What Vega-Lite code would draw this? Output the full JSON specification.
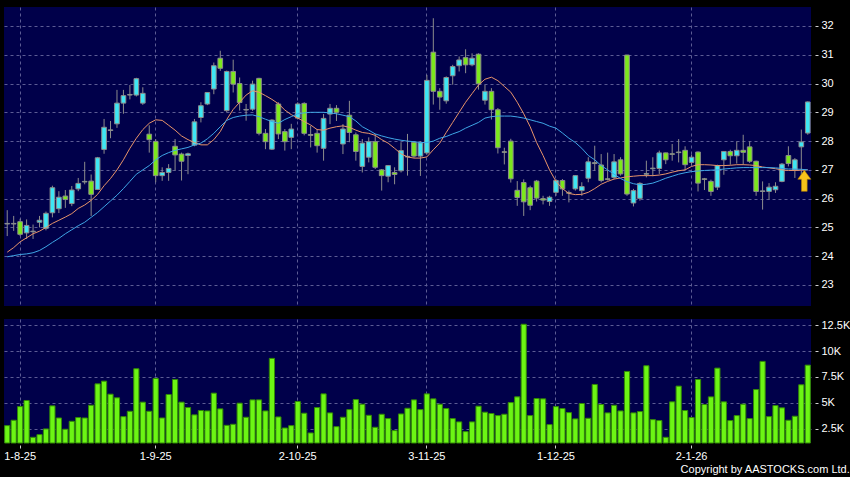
{
  "$schema": "https://vega.github.io/schema/vega-lite/v6.json",
  "background": "#000000",
  "padding": {"left": 3, "top": 7, "right": 2, "bottom": 2},
  "autosize": {"type": "pad"},
  "title": {"text": "Copyright by AASTOCKS.com Ltd.", "orient": "bottom", "anchor": "end", "frame": "bounds", "fontSize": 11, "fontWeight": "normal", "font": "Liberation Sans", "color": "#ffffff", "offset": 3},
  "spacing": 13,
  "datasets": {
    "ohlc": [
      {"d":"2025-07-30","o":25.12,"h":25.6,"l":24.7,"c":25.14,"v":2790,"m10":24.14,"m20":23.98},
      {"d":"2025-07-31","o":25.12,"h":25.4,"l":24.88,"c":25.14,"v":3310,"m10":24.3,"m20":24.02},
      {"d":"2025-08-01","o":25.2,"h":25.3,"l":24.7,"c":24.76,"v":4630,"m10":24.5,"m20":24.06},
      {"d":"2025-08-04","o":24.81,"h":25.28,"l":24.6,"c":25.07,"v":5220,"m10":24.64,"m20":24.08},
      {"d":"2025-08-05","o":24.85,"h":25.1,"l":24.6,"c":24.87,"v":1660,"m10":24.78,"m20":24.12},
      {"d":"2025-08-06","o":25.18,"h":25.4,"l":25.0,"c":25.25,"v":1920,"m10":24.87,"m20":24.2},
      {"d":"2025-08-07","o":24.97,"h":25.55,"l":24.9,"c":25.49,"v":2470,"m10":25.0,"m20":24.33},
      {"d":"2025-08-08","o":25.51,"h":26.45,"l":25.35,"c":26.38,"v":4700,"m10":25.14,"m20":24.48},
      {"d":"2025-08-11","o":25.65,"h":26.26,"l":25.5,"c":26.05,"v":3530,"m10":25.25,"m20":24.62},
      {"d":"2025-08-12","o":26.09,"h":26.3,"l":25.68,"c":25.97,"v":2440,"m10":25.36,"m20":24.78},
      {"d":"2025-08-13","o":25.83,"h":26.44,"l":25.74,"c":26.3,"v":3210,"m10":25.48,"m20":24.92},
      {"d":"2025-08-14","o":26.34,"h":26.72,"l":26.26,"c":26.53,"v":3570,"m10":25.66,"m20":25.06},
      {"d":"2025-08-15","o":26.58,"h":27.28,"l":26.5,"c":26.6,"v":3530,"m10":25.78,"m20":25.18},
      {"d":"2025-08-18","o":26.61,"h":26.84,"l":25.4,"c":26.15,"v":4760,"m10":25.94,"m20":25.35},
      {"d":"2025-08-19","o":26.32,"h":27.45,"l":26.3,"c":27.42,"v":6830,"m10":26.15,"m20":25.52},
      {"d":"2025-08-20","o":27.71,"h":28.77,"l":27.56,"c":28.48,"v":7090,"m10":26.45,"m20":25.72},
      {"d":"2025-08-21","o":28.37,"h":28.7,"l":28.1,"c":28.39,"v":5830,"m10":26.7,"m20":25.92},
      {"d":"2025-08-22","o":28.6,"h":29.78,"l":28.46,"c":29.32,"v":5480,"m10":27.0,"m20":26.12},
      {"d":"2025-08-25","o":29.32,"h":29.78,"l":28.95,"c":29.58,"v":3660,"m10":27.35,"m20":26.35},
      {"d":"2025-08-26","o":29.6,"h":29.95,"l":29.45,"c":29.62,"v":4180,"m10":27.75,"m20":26.6},
      {"d":"2025-08-27","o":29.6,"h":30.2,"l":29.55,"c":30.17,"v":8290,"m10":28.1,"m20":26.85},
      {"d":"2025-08-28","o":29.32,"h":29.87,"l":29.26,"c":29.66,"v":5060,"m10":28.4,"m20":27.0},
      {"d":"2025-08-29","o":28.24,"h":28.55,"l":27.6,"c":28.05,"v":4180,"m10":28.62,"m20":27.15},
      {"d":"2025-09-01","o":27.99,"h":28.07,"l":26.57,"c":26.8,"v":7350,"m10":28.74,"m20":27.35},
      {"d":"2025-09-02","o":26.8,"h":27.09,"l":26.62,"c":26.91,"v":3530,"m10":28.72,"m20":27.5},
      {"d":"2025-09-03","o":26.91,"h":27.2,"l":26.62,"c":27.05,"v":5800,"m10":28.55,"m20":27.6},
      {"d":"2025-09-04","o":27.82,"h":28.07,"l":26.97,"c":27.52,"v":7250,"m10":28.38,"m20":27.68},
      {"d":"2025-09-05","o":27.55,"h":27.6,"l":26.63,"c":27.3,"v":5060,"m10":28.18,"m20":27.73},
      {"d":"2025-09-08","o":27.5,"h":27.6,"l":26.85,"c":27.56,"v":4540,"m10":28.05,"m20":27.78},
      {"d":"2025-09-09","o":27.86,"h":28.77,"l":27.82,"c":28.67,"v":3830,"m10":27.95,"m20":27.87},
      {"d":"2025-09-10","o":28.82,"h":29.35,"l":28.65,"c":29.23,"v":4250,"m10":27.87,"m20":27.93},
      {"d":"2025-09-11","o":29.29,"h":29.7,"l":29.25,"c":29.69,"v":4210,"m10":27.87,"m20":28.08},
      {"d":"2025-09-12","o":29.81,"h":30.73,"l":29.63,"c":30.62,"v":5930,"m10":28.05,"m20":28.27},
      {"d":"2025-09-15","o":30.88,"h":31.14,"l":30.44,"c":30.53,"v":4410,"m10":28.33,"m20":28.5},
      {"d":"2025-09-16","o":29.06,"h":30.45,"l":29.0,"c":30.42,"v":2820,"m10":28.75,"m20":28.72},
      {"d":"2025-09-17","o":30.42,"h":30.83,"l":29.69,"c":29.98,"v":2920,"m10":29.1,"m20":28.82},
      {"d":"2025-09-18","o":30.0,"h":30.21,"l":29.06,"c":29.34,"v":4960,"m10":29.35,"m20":28.87},
      {"d":"2025-09-19","o":29.08,"h":29.29,"l":28.71,"c":29.1,"v":3600,"m10":29.6,"m20":28.9},
      {"d":"2025-09-22","o":29.11,"h":30.1,"l":29.05,"c":29.98,"v":5280,"m10":29.75,"m20":28.91},
      {"d":"2025-09-23","o":30.18,"h":30.2,"l":28.2,"c":28.27,"v":5280,"m10":29.7,"m20":28.85},
      {"d":"2025-09-24","o":28.27,"h":28.42,"l":27.72,"c":27.98,"v":4210,"m10":29.58,"m20":28.76},
      {"d":"2025-09-25","o":27.72,"h":28.76,"l":27.69,"c":28.73,"v":9290,"m10":29.45,"m20":28.68},
      {"d":"2025-09-26","o":29.29,"h":29.35,"l":28.07,"c":28.25,"v":3630,"m10":29.3,"m20":28.62},
      {"d":"2025-09-29","o":28.33,"h":28.42,"l":27.67,"c":27.98,"v":2560,"m10":29.08,"m20":28.75},
      {"d":"2025-09-30","o":28.13,"h":28.6,"l":27.72,"c":28.42,"v":2790,"m10":28.92,"m20":28.85},
      {"d":"2025-10-02","o":28.8,"h":29.35,"l":28.75,"c":29.29,"v":5120,"m10":28.8,"m20":28.95},
      {"d":"2025-10-03","o":29.31,"h":29.35,"l":28.2,"c":28.27,"v":3990,"m10":28.68,"m20":28.98},
      {"d":"2025-10-06","o":28.23,"h":28.53,"l":27.78,"c":28.2,"v":2080,"m10":28.56,"m20":29.0},
      {"d":"2025-10-08","o":28.27,"h":28.42,"l":27.6,"c":27.84,"v":4540,"m10":28.4,"m20":29.0},
      {"d":"2025-10-09","o":27.75,"h":28.94,"l":27.32,"c":28.79,"v":5860,"m10":28.38,"m20":29.0},
      {"d":"2025-10-10","o":28.94,"h":29.29,"l":28.59,"c":29.14,"v":4020,"m10":28.45,"m20":28.98},
      {"d":"2025-10-13","o":29.14,"h":29.25,"l":28.7,"c":29.0,"v":2690,"m10":28.5,"m20":28.95},
      {"d":"2025-10-14","o":27.9,"h":28.59,"l":27.55,"c":28.42,"v":3600,"m10":28.53,"m20":28.9},
      {"d":"2025-10-15","o":28.9,"h":29.4,"l":27.96,"c":28.3,"v":4340,"m10":28.48,"m20":28.85},
      {"d":"2025-10-16","o":28.22,"h":28.3,"l":27.32,"c":27.64,"v":5310,"m10":28.38,"m20":28.7},
      {"d":"2025-10-17","o":27.12,"h":28.07,"l":26.91,"c":27.93,"v":4860,"m10":28.3,"m20":28.5},
      {"d":"2025-10-20","o":27.44,"h":28.13,"l":27.26,"c":27.98,"v":3790,"m10":28.27,"m20":28.38},
      {"d":"2025-10-21","o":27.98,"h":28.25,"l":27.03,"c":27.09,"v":2630,"m10":28.2,"m20":28.25},
      {"d":"2025-10-22","o":27.0,"h":27.03,"l":26.28,"c":26.8,"v":3890,"m10":28.05,"m20":28.18},
      {"d":"2025-10-23","o":26.78,"h":27.17,"l":26.57,"c":27.15,"v":3470,"m10":27.93,"m20":28.12},
      {"d":"2025-10-24","o":26.91,"h":27.09,"l":26.5,"c":26.84,"v":2310,"m10":27.75,"m20":28.07},
      {"d":"2025-10-27","o":26.97,"h":27.96,"l":26.91,"c":27.67,"v":3920,"m10":27.56,"m20":28.03},
      {"d":"2025-10-28","o":27.45,"h":28.25,"l":26.8,"c":27.47,"v":4470,"m10":27.45,"m20":28.0},
      {"d":"2025-10-30","o":27.96,"h":28.0,"l":27.42,"c":27.48,"v":5280,"m10":27.41,"m20":27.98},
      {"d":"2025-10-31","o":27.48,"h":28.0,"l":26.79,"c":27.94,"v":4340,"m10":27.41,"m20":27.95},
      {"d":"2025-11-03","o":27.59,"h":30.3,"l":27.53,"c":30.11,"v":5860,"m10":27.45,"m20":27.95},
      {"d":"2025-11-04","o":31.09,"h":32.27,"l":29.27,"c":29.73,"v":5380,"m10":27.7,"m20":28.0},
      {"d":"2025-11-05","o":29.73,"h":29.84,"l":29.09,"c":29.53,"v":4860,"m10":27.93,"m20":28.1},
      {"d":"2025-11-06","o":29.4,"h":30.25,"l":29.3,"c":30.21,"v":4440,"m10":28.3,"m20":28.16},
      {"d":"2025-11-07","o":30.27,"h":30.65,"l":29.96,"c":30.59,"v":3470,"m10":28.65,"m20":28.25},
      {"d":"2025-11-10","o":30.62,"h":30.94,"l":30.42,"c":30.82,"v":3150,"m10":29.0,"m20":28.33},
      {"d":"2025-11-11","o":30.9,"h":31.19,"l":30.36,"c":30.65,"v":2210,"m10":29.35,"m20":28.45},
      {"d":"2025-11-12","o":30.65,"h":31.05,"l":30.6,"c":30.88,"v":3150,"m10":29.65,"m20":28.55},
      {"d":"2025-11-13","o":31.02,"h":31.05,"l":29.79,"c":29.99,"v":4670,"m10":29.95,"m20":28.65},
      {"d":"2025-11-14","o":29.42,"h":29.96,"l":29.27,"c":29.73,"v":4090,"m10":30.15,"m20":28.8},
      {"d":"2025-11-17","o":29.73,"h":29.84,"l":28.75,"c":29.09,"v":3960,"m10":30.22,"m20":28.85},
      {"d":"2025-11-18","o":29.09,"h":29.15,"l":27.57,"c":27.77,"v":3760,"m10":30.1,"m20":28.87},
      {"d":"2025-11-19","o":27.63,"h":27.77,"l":27.19,"c":27.61,"v":3890,"m10":29.9,"m20":28.87},
      {"d":"2025-11-20","o":28.0,"h":28.08,"l":26.56,"c":26.69,"v":5020,"m10":29.7,"m20":28.87},
      {"d":"2025-11-21","o":26.29,"h":26.61,"l":25.75,"c":26.04,"v":5570,"m10":29.35,"m20":28.84},
      {"d":"2025-11-24","o":26.56,"h":26.67,"l":25.4,"c":25.89,"v":12590,"m10":28.95,"m20":28.8},
      {"d":"2025-11-25","o":26.38,"h":26.45,"l":25.6,"c":25.77,"v":3760,"m10":28.5,"m20":28.74},
      {"d":"2025-11-26","o":26.61,"h":26.65,"l":25.9,"c":26.02,"v":5410,"m10":27.95,"m20":28.68},
      {"d":"2025-11-27","o":26.0,"h":26.1,"l":25.8,"c":25.95,"v":5380,"m10":27.5,"m20":28.62},
      {"d":"2025-11-28","o":25.9,"h":26.1,"l":25.75,"c":26.05,"v":2890,"m10":27.0,"m20":28.52},
      {"d":"2025-12-01","o":26.22,"h":26.68,"l":26.1,"c":26.63,"v":4630,"m10":26.6,"m20":28.45},
      {"d":"2025-12-02","o":26.63,"h":26.68,"l":26.1,"c":26.34,"v":4440,"m10":26.35,"m20":28.28},
      {"d":"2025-12-03","o":26.21,"h":26.28,"l":25.87,"c":26.19,"v":4050,"m10":26.18,"m20":28.1},
      {"d":"2025-12-04","o":26.34,"h":26.82,"l":26.28,"c":26.8,"v":3440,"m10":26.14,"m20":27.95},
      {"d":"2025-12-05","o":26.28,"h":26.57,"l":26.1,"c":26.42,"v":4930,"m10":26.15,"m20":27.75},
      {"d":"2025-12-08","o":26.71,"h":27.44,"l":26.57,"c":27.28,"v":3500,"m10":26.22,"m20":27.5},
      {"d":"2025-12-09","o":27.25,"h":27.84,"l":26.97,"c":27.22,"v":6770,"m10":26.35,"m20":27.35},
      {"d":"2025-12-10","o":27.17,"h":27.55,"l":26.57,"c":26.63,"v":4830,"m10":26.5,"m20":27.15},
      {"d":"2025-12-11","o":26.69,"h":27.6,"l":26.63,"c":26.67,"v":4020,"m10":26.6,"m20":27.0},
      {"d":"2025-12-12","o":26.74,"h":27.55,"l":26.68,"c":27.28,"v":4760,"m10":26.68,"m20":26.85},
      {"d":"2025-12-15","o":27.35,"h":27.44,"l":26.8,"c":26.86,"v":4210,"m10":26.72,"m20":26.7},
      {"d":"2025-12-16","o":30.99,"h":31.0,"l":26.1,"c":26.16,"v":8030,"m10":26.76,"m20":26.59},
      {"d":"2025-12-17","o":25.85,"h":26.34,"l":25.73,"c":26.28,"v":4020,"m10":26.78,"m20":26.52},
      {"d":"2025-12-18","o":26.01,"h":26.57,"l":25.93,"c":26.53,"v":4150,"m10":26.8,"m20":26.48},
      {"d":"2025-12-19","o":26.85,"h":27.32,"l":26.74,"c":26.87,"v":8580,"m10":26.8,"m20":26.5},
      {"d":"2025-12-22","o":27.04,"h":27.44,"l":26.78,"c":27.06,"v":3370,"m10":26.8,"m20":26.54},
      {"d":"2025-12-23","o":27.05,"h":27.67,"l":26.86,"c":27.59,"v":3280,"m10":26.82,"m20":26.62},
      {"d":"2025-12-24","o":27.59,"h":27.6,"l":27.2,"c":27.35,"v":1660,"m10":26.86,"m20":26.71},
      {"d":"2025-12-29","o":27.56,"h":27.9,"l":27.32,"c":27.54,"v":5090,"m10":26.92,"m20":26.78},
      {"d":"2025-12-30","o":27.6,"h":28.07,"l":27.26,"c":27.62,"v":6610,"m10":26.97,"m20":26.85},
      {"d":"2025-12-31","o":27.68,"h":27.82,"l":27.0,"c":27.18,"v":4250,"m10":27.0,"m20":26.9},
      {"d":"2026-01-02","o":27.26,"h":27.53,"l":27.18,"c":27.44,"v":3570,"m10":27.12,"m20":26.94},
      {"d":"2026-01-05","o":27.62,"h":27.64,"l":26.25,"c":26.54,"v":7250,"m10":27.18,"m20":26.96},
      {"d":"2026-01-06","o":26.69,"h":26.72,"l":26.3,"c":26.67,"v":4830,"m10":27.18,"m20":26.98},
      {"d":"2026-01-07","o":26.6,"h":26.66,"l":26.1,"c":26.25,"v":5570,"m10":27.17,"m20":26.99},
      {"d":"2026-01-08","o":26.4,"h":27.18,"l":26.3,"c":27.15,"v":8350,"m10":27.15,"m20":27.0},
      {"d":"2026-01-09","o":27.35,"h":27.64,"l":26.83,"c":27.64,"v":5090,"m10":27.15,"m20":27.03},
      {"d":"2026-01-12","o":27.64,"h":27.7,"l":27.18,"c":27.49,"v":3280,"m10":27.16,"m20":27.05},
      {"d":"2026-01-13","o":27.49,"h":27.99,"l":27.22,"c":27.68,"v":3760,"m10":27.18,"m20":27.07},
      {"d":"2026-01-14","o":27.68,"h":28.22,"l":27.18,"c":27.61,"v":4860,"m10":27.18,"m20":27.08},
      {"d":"2026-01-15","o":27.8,"h":27.99,"l":27.24,"c":27.3,"v":3470,"m10":27.17,"m20":27.08},
      {"d":"2026-01-16","o":27.3,"h":27.32,"l":26.1,"c":26.25,"v":6280,"m10":27.15,"m20":27.08},
      {"d":"2026-01-19","o":26.25,"h":26.6,"l":25.62,"c":26.27,"v":9000,"m10":27.1,"m20":27.08},
      {"d":"2026-01-20","o":26.25,"h":26.54,"l":25.96,"c":26.4,"v":3660,"m10":27.07,"m20":27.08},
      {"d":"2026-01-21","o":26.31,"h":26.57,"l":26.2,"c":26.43,"v":4730,"m10":27.04,"m20":27.07},
      {"d":"2026-01-22","o":26.6,"h":27.24,"l":26.57,"c":27.2,"v":4510,"m10":27.0,"m20":27.05},
      {"d":"2026-01-23","o":27.5,"h":27.82,"l":27.12,"c":27.22,"v":3310,"m10":26.98,"m20":27.03},
      {"d":"2026-01-26","o":27.0,"h":27.41,"l":26.72,"c":27.35,"v":3700,"m10":26.98,"m20":27.03},
      {"d":"2026-01-27","o":27.8,"h":28.4,"l":26.66,"c":27.97,"v":6740,"m10":26.99,"m20":27.02},
      {"d":"2026-01-28","o":28.28,"h":29.38,"l":28.22,"c":29.36,"v":8640,"m10":27.0,"m20":27.0}
    ],
    "signal": [{"d": "2026-01-27", "p": 26.62}]
  },
  "vconcat": [
    {
      "width": 807,
      "height": 299,
      "data": {"name": "ohlc"},
      "encoding": {
        "x": {
          "field": "d", "type": "ordinal",
          "scale": {"type": "band", "paddingInner": 0, "paddingOuter": 0},
          "axis": {"values": ["2025-08-01","2025-09-01","2025-10-02","2025-11-03","2025-12-01","2026-01-02"], "labels": false, "ticks": false, "domain": false, "grid": true, "title": null, "bandPosition": 0.5}
        },
        "y": {"field": "l", "type": "quantitative", "scale": {"domain": [22.27, 32.66], "zero": false, "nice": false},
          "axis": {"orient": "right", "values": [23,24,25,26,27,28,29,30,31,32], "title": null, "grid": true, "domain": false, "tickSize": 3, "offset": 4, "labelPadding": 3, "labelOverlap": false, "labelSeparation": 0, "labelBound": false}}
      },
      "layer": [
        {
          "mark": {"type": "rule", "color": "#8c8c8c", "strokeWidth": 1},
          "encoding": {"y2": {"field": "h"}}
        },
        {
          "mark": {"type": "bar", "stroke": "#8c8c8c", "strokeWidth": 1, "width": {"band": 0.72}},
          "encoding": {
            "y": {"field": "o", "type": "quantitative"},
            "y2": {"field": "c"},
            "color": {"condition": {"test": "datum.c >= datum.o", "value": "#3ee6f4"}, "value": "#7ce81c"}
          }
        },
        {
          "mark": {"type": "line", "color": "#e8946a", "strokeWidth": 1},
          "encoding": {"y": {"field": "m10", "type": "quantitative"}}
        },
        {
          "mark": {"type": "line", "color": "#3fa6e6", "strokeWidth": 1},
          "encoding": {"y": {"field": "m20", "type": "quantitative"}}
        },
        {
          "data": {"name": "signal"},
          "mark": {"type": "point", "shape": "M0,-1L0.62,-0.15L0.27,-0.15L0.27,1L-0.27,1L-0.27,-0.15L-0.62,-0.15Z", "size": 441, "filled": true, "fill": "#f7c21a", "stroke": "#b88400", "strokeWidth": 0.6, "opacity": 1, "xOffset": 3},
          "encoding": {
            "y": {"field": "p", "type": "quantitative"}
          }
        }
      ]
    },
    {
      "width": 807,
      "height": 124,
      "data": {"name": "ohlc"},
      "mark": {"type": "bar", "fill": "#6cf514", "stroke": "#338a06", "strokeWidth": 1, "width": {"band": 0.8}},
      "encoding": {
        "x": {
          "field": "d", "type": "ordinal",
          "scale": {"type": "band", "paddingInner": 0, "paddingOuter": 0},
          "axis": {"values": ["2025-08-01","2025-09-01","2025-10-02","2025-11-03","2025-12-01","2026-01-02"],
            "labelExpr": "toNumber(substring(datum.value,8,10)) + '-' + toNumber(substring(datum.value,5,7)) + '-' + substring(datum.value,2,4)",
            "title": null, "grid": true, "domain": false, "bandPosition": 0.5, "labelAngle": 0, "tickSize": 3, "offset": 2, "labelPadding": 2, "labelOverlap": false, "labelFlush": false}
        },
        "y": {"field": "v", "type": "quantitative", "scale": {"domain": [1110, 13100], "zero": false, "nice": false},
          "axis": {"orient": "right", "values": [2500, 5000, 7500, 10000, 12500], "labelExpr": "datum.value / 1000 + 'K'", "title": null, "grid": true, "domain": false, "tickSize": 3, "offset": 4, "labelPadding": 3, "labelOverlap": false}},
        "y2": {"datum": 1110}
      }
    }
  ],
  "config": {
    "view": {"fill": "#00004a", "stroke": null},
    "axis": {
      "gridColor": "#5c5c94", "gridDash": [3, 3], "gridWidth": 1, "gridOpacity": 1,
      "labelColor": "#ffffff", "labelFont": "Liberation Sans", "labelFontSize": 11,
      "tickColor": "#d0d0d0", "tickWidth": 1, "labelOverlap": false
    }
  }
}
